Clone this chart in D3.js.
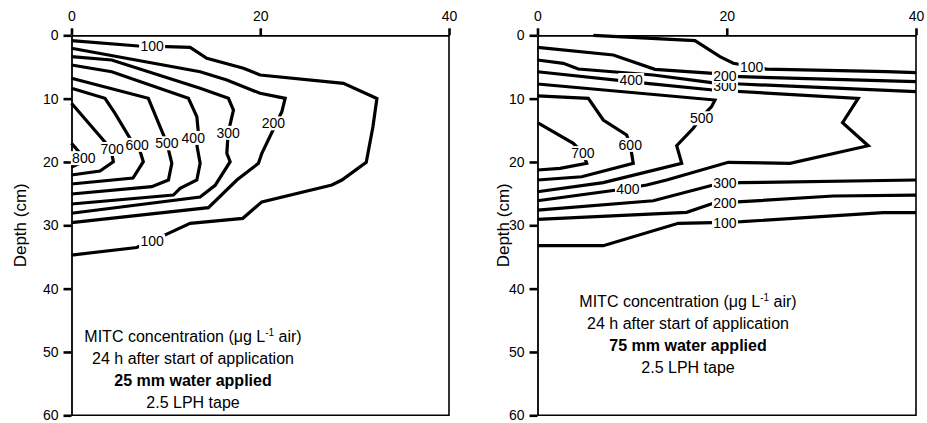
<!DOCTYPE html>
<html><head><meta charset="utf-8">
<script src="https://cdn.jsdelivr.net/npm/d3@7"></script>
<style>
body{margin:0;background:#fff;}
text{font-family:"Liberation Sans",Arial,sans-serif;}
</style></head>
<body><svg id="c" width="927" height="423"></svg>
<script>
// ---------- data ----------
const xTicks = [0, 20, 40];
const yTicks = [0, 10, 20, 30, 40, 50, 60];

// Left panel (25 mm water) contour polylines: [distance, depth]
const left100 = [[0,0.85],[7.08,1.69],[10.1,1.8],[12.57,1.9],[14.34,3.63],[18.22,5.2],[19.99,6.27],[28.82,7.59],[32.36,9.98],[31.94,14.43],[31.23,20.05],[28.65,22.85],[27.59,23.64],[20.17,26.3],[18.15,28.9],[12.57,29.7],[10.1,31.4],[6.91,33.5],[0,34.7]];
const left200 = [[0,2.05],[13.63,5.75],[16.46,7.06],[19.99,9.16],[22.64,9.95],[22.29,12.06],[20.17,18.63],[19.81,20.21],[17.52,22.85],[14.51,27.22],[0,29.59]];
const left300 = [[0,3.38],[4.26,3.9],[13.63,8.37],[16.63,9.95],[17.16,11.8],[16.6,15.4],[16.46,18.63],[16.81,19.96],[15.22,23.69],[13.63,25.53],[0,28.1]];
const left400 = [[0,4.69],[4.26,5.75],[12.39,9.95],[13.28,12.85],[13.45,15.47],[13.3,17.5],[13.63,20.21],[13.28,22.85],[11.51,24.16],[10.8,25.22],[0,26.64]];
const left500 = [[0,6.79],[8.14,9.95],[9.38,14.43],[10.1,17],[10.63,20.21],[10.27,22.85],[8.5,23.9],[0,25.06]];
const left600 = [[0,8.37],[3.55,9.95],[4.61,12.32],[6.2,16.26],[7.2,18],[7.61,19.96],[6.52,22.53],[0,23.48]];
const left700 = [[0,10.74],[3.2,16.26],[4.2,18],[4.43,19.96],[3.02,21.43],[0,22.06]];
const left800 = [[0,17.05],[0.9,18.6],[0.9,20.2],[0,20.8]];
const leftLabels = [[8.54,1.75,"100"],[8.54,32.5,"100"],[21.4,13.9,"200"],[16.6,15.4,"300"],[12.9,16.2,"400"],[10.1,17.05,"500"],[6.95,17.3,"600"],[4.3,17.95,"700"],[1.3,19.4,"800"]];

// Right panel (75 mm water)
const right100a = [[5.9,0],[16.64,0.85],[19.28,3.38],[20.69,4.42],[24.22,5.35],[36.9,5.75],[40,5.9]];
const right200a = [[0,1.9],[8.01,3.11],[12.41,5.37],[18.57,6.0],[21.39,6.54],[40,7.33]];
const right300a = [[0,3.9],[2.73,4.42],[4.31,5.32],[12.23,6.27],[18.4,7.48],[21.4,7.69],[40,8.9]];
const right400 = [[0,5.75],[11.54,7.58],[18.54,8.64],[33.89,9.95],[32.24,13.8],[34.95,17.43],[26.68,20.21],[20.16,20.05],[13.65,22.85],[11.54,23.64],[8.37,24.43],[0,26.12]];
const right500 = [[0,7.69],[18.75,10.22],[18.4,11.27],[17.4,12.8],[16.46,14.68],[14.71,17.43],[15.24,20.21],[6.95,23.27],[0,24.7]];
const right600 = [[0,9.58],[5.37,9.95],[6.95,13.37],[9.42,15.74],[9.8,17.3],[10.12,20.21],[4.67,22.33],[0,22.85]];
const right700 = [[0,13.8],[3.78,17.05],[4.8,18.6],[5.2,20.21],[2.38,21.0],[0,21.27]];
const right300b = [[0,27.59],[12.23,26.12],[18.57,23.64],[21.39,23.27],[40,22.85]];
const right200b = [[0,29.05],[15.76,27.95],[18.57,26.53],[21.57,26.27],[31.25,25.37],[40,25.22]];
const right100b = [[0,33.22],[6.95,33.22],[14.88,29.69],[18.57,29.59],[21.57,29.43],[36.53,28.01],[40,28.01]];
const rightLabels = [[22.63,4.96,"100"],[19.81,8.0,"300"],[19.81,6.43,"200"],[9.9,7.06,"400"],[17.35,13.1,"500"],[9.8,17.3,"600"],[4.8,18.6,"700"],[9.56,24.27,"400"],[19.81,23.32,"300"],[19.81,26.43,"200"],[19.81,29.59,"100"]];

const leftText = ["25 mm water applied"];
const rightText = ["75 mm water applied"];

// ---------- drawing ----------
const svg = d3.select("#c");
const panels = [
  {x0:71.5, x1:449, lines:[left100,left200,left300,left400,left500,left600,left700,left800], labels:leftLabels,
   water:leftText[0], tx:193, ty:336, yl:20},
  {x0:537.5, x1:916, lines:[right100a,right200a,right300a,right400,right500,right600,right700,right300b,right200b,right100b], labels:rightLabels,
   water:rightText[0], tx:688, ty:301, yl:503}
];
const yTop = 35.3, yBot = 415.3;

panels.forEach(p => {
  const x = d3.scaleLinear().domain([0,40]).range([p.x0, p.x1]);
  const y = d3.scaleLinear().domain([0,60]).range([yTop, yBot]);
  const g = svg.append("g");
  g.append("path").attr("d", `M${x(0)},${y(60)}H${x(40)}V${y(0)}`)
    .attr("fill","none").attr("stroke","#000").attr("stroke-width",1.6);
  const line = d3.line().x(d=>x(d[0])).y(d=>y(d[1]));
  g.selectAll("path.c").data(p.lines).join("path").attr("class","c")
    .attr("d", line).attr("fill","none").attr("stroke","#000")
    .attr("stroke-width",3.2).attr("stroke-linejoin","miter").attr("stroke-miterlimit",6);
  const ax = g.append("g").attr("transform",`translate(0,${y(0)})`)
    .call(d3.axisTop(x).tickValues(xTicks).tickSize(7).tickPadding(7).tickSizeOuter(0));
  const ay = g.append("g").attr("transform",`translate(${x(0)},0)`)
    .call(d3.axisLeft(y).tickValues(yTicks).tickSize(8).tickPadding(5).tickSizeOuter(0));
  [ax, ay].forEach(a => {
    a.select(".domain").attr("stroke","#000").attr("stroke-width",1.8);
    a.selectAll(".tick line").attr("stroke","#000").attr("stroke-width",2.6);
    a.selectAll(".tick text").attr("fill","#000").style("font-size","14px")
      .style("font-family","'Liberation Sans',Arial,sans-serif");
  });
  const lg = g.selectAll("g.lab").data(p.labels).join("g").attr("class","lab")
    .attr("transform", d=>`translate(${x(d[0])},${y(d[1])})`);
  lg.append("rect").attr("x",-13).attr("y",-7).attr("width",26).attr("height",14).attr("fill","#fff");
  lg.append("text").attr("text-anchor","middle").attr("dy","0.36em")
    .style("font-size","14px").text(d=>d[2]);
  g.append("text").attr("transform",`translate(${p.yl},${(yTop+yBot)/2}) rotate(-90)`)
    .attr("text-anchor","middle").attr("dy","0.35em").style("font-size","17px").text("Depth (cm)");
  const t = g.append("g").attr("transform",`translate(${p.tx},${p.ty})`)
    .attr("text-anchor","middle").style("font-size","16px");
  const t1 = t.append("text").attr("y",5.5);
  t1.append("tspan").text("MITC concentration (\u03bcg L");
  t1.append("tspan").attr("dy",-6).style("font-size","10px").text("-1");
  t1.append("tspan").attr("dy",6).text(" air)");
  t.append("text").attr("y",27.5).text("24 h after start of application");
  t.append("text").attr("y",49.5).style("font-weight","bold").text(p.water);
  t.append("text").attr("y",71.5).text("2.5 LPH tape");
});
</script></body></html>
